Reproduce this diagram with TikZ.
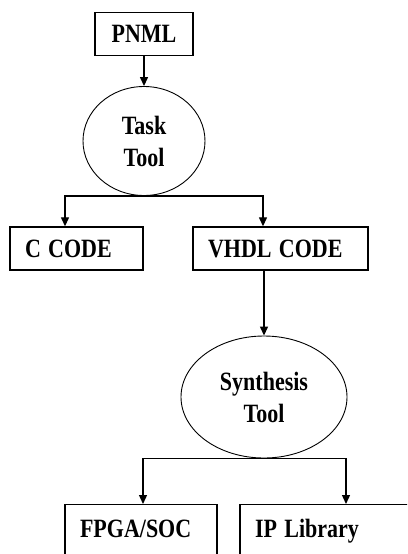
\documentclass[tikz,border=0pt]{standalone}
\usepackage{graphicx}
\usepackage{fontspec}
\setmainfont{Liberation Serif}
\usetikzlibrary{arrows.meta,shapes.geometric}
% labels are set a little taller than wide
\newcommand{\tallbf}[1]{\scalebox{1}[1.2]{#1}}

\begin{document}
\begin{tikzpicture}[x=1pt, y=-1pt,
    font=\fontsize{22}{32}\selectfont\bfseries,
    box/.style={draw, line width=1.4pt, rectangle, minimum height=43pt, inner xsep=15pt, align=left},
    tool/.style={draw, line width=0.9pt, ellipse, inner sep=0pt, align=center},
    arr/.style={line width=1.3pt, -{Triangle[length=9pt,width=8pt]}}]
  \clip (0,0) rectangle (407,554);
  % PNML -> task tool -> C / VHDL
  \node[box, minimum width=98pt, align=center] (pnml) at (144,34) {\tallbf{PNML}};
  \node[tool, minimum width=122pt, minimum height=109pt] (task) at (144,141) {\tallbf{Task}\\\tallbf{Tool}};
  \node[box, text width=103pt] (ccode) at (76.5,248.5) {\tallbf{C CODE}};
  \node[box, text width=145pt] (vhdl) at (280.5,248.5) {\tallbf{VHDL CODE}};
  \draw[arr] (pnml.south) -- (task.north);
  \draw[arr] (task.south) -| ([xshift=-11.5pt]ccode.north);
  \draw[arr] (task.south) -| ([xshift=-17.5pt]vhdl.north);
  % VHDL -> synthesis -> FPGA / IP
  \node[tool, minimum width=166pt, minimum height=122pt] (synth) at (264,397) {\tallbf{Synthesis}\\\tallbf{Tool}};
  \node[box, text width=122pt, inner ysep=0pt, text height=33pt, text depth=40pt, anchor=north] (fpga) at (141,504) {\tallbf{FPGA/SOC}};
  \node[box, text width=182pt, inner ysep=0pt, text height=33pt, text depth=40pt, anchor=north] (ip) at (346,504) {\tallbf{IP Library}};
  \draw[arr] (vhdl.south -| synth.north) -- (synth.north);
  \draw[arr] (synth.south) -| ([xshift=2pt]fpga.north);
  \draw[arr] (synth.south) -| (ip.north);
\end{tikzpicture}
\end{document}
